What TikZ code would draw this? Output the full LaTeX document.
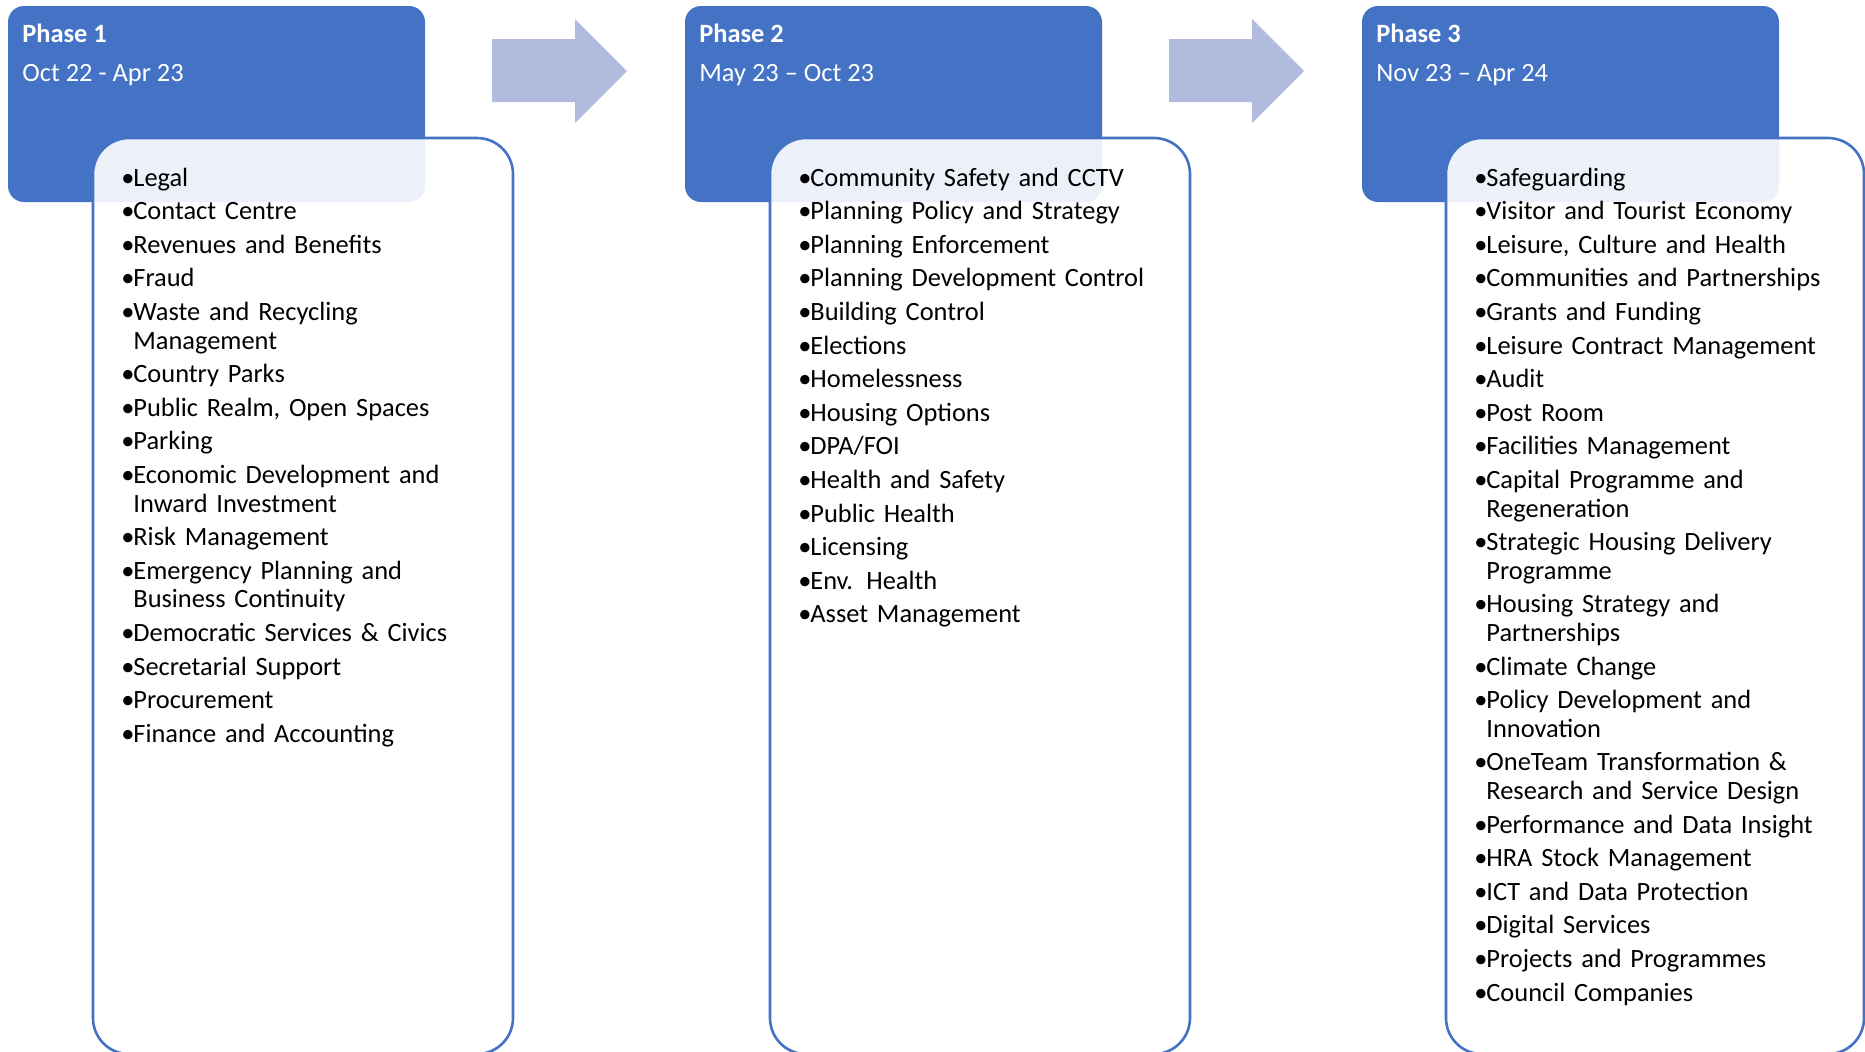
\documentclass[tikz,border=0pt]{standalone}
\usepackage{fontspec}
\setmainfont{Carlito}
\usetikzlibrary{positioning}
\definecolor{PhaseBlue}{HTML}{4472C4}
\definecolor{ArrowBlue}{HTML}{B0BBDE}

\newlength{\bulw}
\setlength{\bulw}{6pt}
\newcommand{\phitem}[1]{\par\hangindent=\bulw\hangafter=1\noindent\strut\makebox[\bulw][l]{\textbullet}#1}

\begin{document}
\begin{tikzpicture}[x=0.5pt, y=-0.5pt,
        header/.style={fill=PhaseBlue, rounded corners=8pt},
        listbox/.style={draw=PhaseBlue, line width=1.3pt, fill=white, fill opacity=0.9, rounded corners=18pt},
        flow/.style={fill=ArrowBlue},
        phasetitle/.style={anchor=base west, inner sep=0pt, text=white, font=\fontsize{13.2}{15}\selectfont\bfseries},
        phasedate/.style={anchor=base west, inner sep=0pt, text=white, font=\fontsize{13.2}{15}\selectfont},
        itemlist/.style={anchor=north west, inner sep=0pt, text width=190pt, align=left,
            font=\fontsize{13.2}{14.3}\selectfont, execute at begin node={\setlength{\parskip}{2.5pt}}}]

        \useasboundingbox (0,0) rectangle (1865,1051);

        % --- 1. Headers ---
        \fill[header] (8,6) rectangle (425,202);
        \fill[header] (685,6) rectangle (1102,202);
        \fill[header] (1362,6) rectangle (1779,202);

        \node[phasetitle] (title1) at (22,42) {Phase 1};
        \node[phasedate] (date1) at (22,81) {Oct 22 - Apr 23};
        \node[phasetitle] (title2) at (699,42) {Phase 2};
        \node[phasedate] (date2) at (699,81) {May 23 – Oct 23};
        \node[phasetitle] (title3) at (1376,42) {Phase 3};
        \node[phasedate] (date3) at (1376,81) {Nov 23 – Apr 24};

        % --- 2. Arrows between phases ---
        \fill[flow] (492,39) -- (575,39) -- (575,19) -- (627,71) -- (575,123) -- (575,102) -- (492,102) -- cycle;
        \fill[flow] (1169,39) -- (1252,39) -- (1252,19) -- (1304,71) -- (1252,123) -- (1252,102) -- (1169,102) -- cycle;

        % --- 3. Service lists ---
        \draw[listbox] (93,138) rectangle (513,1054);
        \draw[listbox] (770,138) rectangle (1190,1054);
        \draw[listbox] (1446,138) rectangle (1864,1054);

        \node[itemlist] (list1) at (121,152) {%
            \phitem{Legal}
            \phitem{Contact Centre}
            \phitem{Revenues and Benefits}
            \phitem{Fraud}
            \phitem{Waste and Recycling\newline Management}
            \phitem{Country Parks}
            \phitem{Public Realm, Open Spaces}
            \phitem{Parking}
            \phitem{Economic Development and\newline Inward Investment}
            \phitem{Risk Management}
            \phitem{Emergency Planning and\newline Business Continuity}
            \phitem{Democratic Services \& Civics}
            \phitem{Secretarial Support}
            \phitem{Procurement}
            \phitem{Finance and Accounting}};

        \node[itemlist] (list2) at (798,152) {%
            \phitem{Community Safety and CCTV}
            \phitem{Planning Policy and Strategy}
            \phitem{Planning Enforcement}
            \phitem{Planning Development Control}
            \phitem{Building Control}
            \phitem{Elections}
            \phitem{Homelessness}
            \phitem{Housing Options}
            \phitem{DPA/FOI}
            \phitem{Health and Safety}
            \phitem{Public Health}
            \phitem{Licensing}
            \phitem{Env. Health}
            \phitem{Asset Management}};

        \node[itemlist] (list3) at (1474,152) {%
            \phitem{Safeguarding}
            \phitem{Visitor and Tourist Economy}
            \phitem{Leisure, Culture and Health}
            \phitem{Communities and Partnerships}
            \phitem{Grants and Funding}
            \phitem{Leisure Contract Management}
            \phitem{Audit}
            \phitem{Post Room}
            \phitem{Facilities Management}
            \phitem{Capital Programme and\newline Regeneration}
            \phitem{Strategic Housing Delivery\newline Programme}
            \phitem{Housing Strategy and\newline Partnerships}
            \phitem{Climate Change}
            \phitem{Policy Development and\newline Innovation}
            \phitem{OneTeam Transformation \&\newline Research and Service Design}
            \phitem{Performance and Data Insight}
            \phitem{HRA Stock Management}
            \phitem{ICT and Data Protection}
            \phitem{Digital Services}
            \phitem{Projects and Programmes}
            \phitem{Council Companies}};

    \end{tikzpicture}
\end{document}
